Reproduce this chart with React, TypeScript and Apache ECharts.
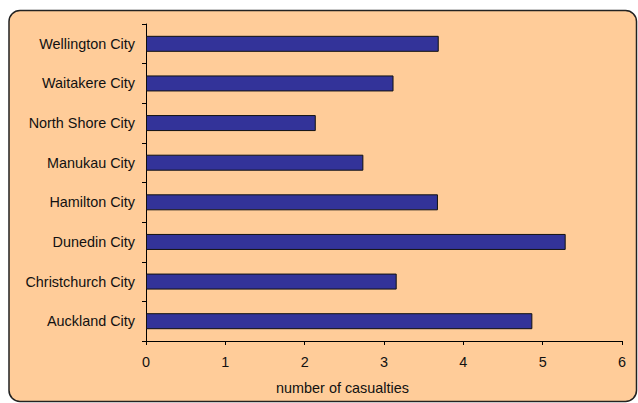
import React, { useEffect, useRef } from "react";
import * as echarts from "echarts";

const categories = [
  "Auckland City",
  "Christchurch City",
  "Dunedin City",
  "Hamilton City",
  "Manukau City",
  "North Shore City",
  "Waitakere City",
  "Wellington City",
];
const casualties = [4.87, 3.16, 5.29, 3.68, 2.74, 2.14, 3.12, 3.69];
const xTicks = [0, 1, 2, 3, 4, 5, 6];
const xAxisTitle = "number of casualties";

export default function App() {
  const ref = useRef<HTMLDivElement>(null);
  useEffect(() => {
    if (!ref.current) return;
    const chart = echarts.init(ref.current, null, { renderer: "svg" });
    const font = "Liberation Sans, Arial, sans-serif";
    const fs = 14.4;
    chart.setOption({
      animation: false,
      backgroundColor: "#ffffff",
      graphic: [
        {
          type: "rect",
          z: -10,
          shape: { x: 9, y: 10.5, width: 627.5, height: 391, r: 11 },
          style: { fill: "#FFCC99", stroke: "#222222", lineWidth: 1.5 },
        },
        {
          type: "text",
          x: 342.5,
          y: 387.5,
          style: {
            text: xAxisTitle,
            fill: "#111111",
            font: fs + "px " + font,
            textAlign: "center",
            textVerticalAlign: "middle",
          },
        },
      ],
      grid: { left: 146, right: 16, top: 24, bottom: 62, containLabel: false },
      xAxis: {
        type: "value",
        min: xTicks[0],
        max: xTicks[xTicks.length - 1],
        interval: 1,
        axisLine: { show: true, lineStyle: { color: "#000000", width: 1 } },
        axisTick: { show: true, length: 4, lineStyle: { color: "#000000" } },
        splitLine: { show: false },
        axisLabel: {
          color: "#111111",
          fontSize: fs,
          fontFamily: font,
          margin: 14,
        },
      },
      yAxis: {
        type: "category",
        data: categories,
        axisLine: { show: true, lineStyle: { color: "#000000", width: 1 } },
        axisTick: { show: true, length: 4, lineStyle: { color: "#000000" } },
        splitLine: { show: false },
        axisLabel: {
          color: "#111111",
          fontSize: fs,
          fontFamily: font,
          margin: 11,
        },
      },
      series: [
        {
          type: "bar",
          data: casualties,
          barWidth: 16,
          itemStyle: { color: "#333399", borderColor: "#111111", borderWidth: 1 },
        },
      ],
    });
    return () => chart.dispose();
  }, []);
  return (
    <div
      ref={ref}
      style={{ position: "fixed", left: 0, top: 0, width: 638, height: 403 }}
    />
  );
}
